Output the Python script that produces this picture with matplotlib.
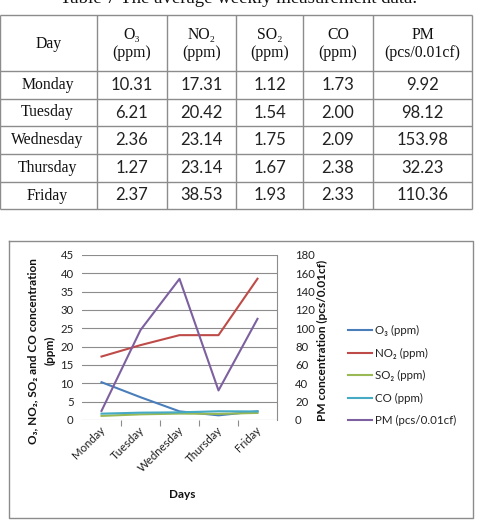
import matplotlib
matplotlib.use('Agg')
import matplotlib.pyplot as plt
import matplotlib.transforms as mtransforms

# ---- data ----
days = ["Monday", "Tuesday", "Wednesday", "Thursday", "Friday"]
o3 = [10.31, 6.21, 2.36, 1.27, 2.37]
no2 = [17.31, 20.42, 23.14, 23.14, 38.53]
so2 = [1.12, 1.54, 1.75, 1.67, 1.93]
co = [1.73, 2.00, 2.09, 2.38, 2.33]
pm = [9.92, 98.12, 153.98, 32.23, 110.36]
table_headers = ["Day", "O\u2083\n(ppm)", "NO\u2082\n(ppm)", "SO\u2082\n(ppm)", "CO\n(ppm)", "PM\n(pcs/0.01cf)"]
caption = "Table 7 The average weekly measurement data."
left_ticks = list(range(0, 46, 5))
right_ticks = list(range(0, 181, 20))
series_labels = ["O\u2083 (ppm)", "NO\u2082 (ppm)", "SO\u2082 (ppm)", "CO (ppm)", "PM (pcs/0.01cf)"]
colors = ["#4A7EBB", "#BE4B48", "#98B954", "#46AAC5", "#7D60A0"]

SERIF = ['Liberation Serif', 'DejaVu Serif']
SANS = ['Lato', 'DejaVu Sans']

W, H = 479, 521
fig = plt.figure(figsize=(W / 100, H / 100), dpi=100)
fig.patch.set_facecolor('white')

# ---- table (pixel overlay) ----
tab = fig.add_axes([0, 0, 1, 1])
tab.set_xlim(0, W)
tab.set_ylim(H, 0)
tab.axis('off')

col_x = [0, 97, 167, 236, 303, 373, 472]
row_y = [15, 71, 99, 126, 154, 182, 209]
gcol = '#8c8c8c'
for y in row_y:
    tab.plot([col_x[0], col_x[-1]], [y, y], color=gcol, lw=1.0, solid_capstyle='butt')
for x in col_x:
    tab.plot([x, x], [row_y[0], row_y[-1]], color=gcol, lw=1.0, solid_capstyle='butt')

tab.text(W / 2 - 1, 3, caption, family=SERIF, fontsize=13.5, ha='center', va='baseline', color='#111111')

for j, htxt in enumerate(table_headers):
    cx = (col_x[j] + col_x[j + 1]) / 2
    tab.text(cx, (row_y[0] + row_y[1]) / 2 + 1, htxt, family=SERIF, fontsize=11.3,
             ha='center', va='center', linespacing=1.15, color='#111111')

table_rows = [[d, f"{a:.2f}", f"{b:.2f}", f"{c:.2f}", f"{e:.2f}", f"{p:.2f}"]
              for d, a, b, c, e, p in zip(days, o3, no2, so2, co, pm)]
for i, row in enumerate(table_rows):
    cy = (row_y[i + 1] + row_y[i + 2]) / 2
    for j, cell in enumerate(row):
        cx = (col_x[j] + col_x[j + 1]) / 2
        if j == 0:
            tab.text(cx - 1, cy, cell, family=SERIF, fontsize=11.3, ha='center', va='center', color='#111111')
        else:
            tab.text(cx, cy, cell, family=SANS, fontsize=12, ha='center', va='center', color='#222222')

# chart border
tab.plot([9, 473, 473, 9, 9], [241, 241, 518, 518, 241], color='#8c8c8c', lw=1.0)

# ---- chart ----
ax = fig.add_axes([82 / W, 1 - 420 / H, 195 / W, 165 / H])
ax.set_zorder(2)
ax.patch.set_alpha(0)
x = list(range(len(days)))
lw = 1.5
h1, = ax.plot(x, o3, color=colors[0], lw=lw, label=series_labels[0])
h2, = ax.plot(x, no2, color=colors[1], lw=lw, label=series_labels[1])
h3, = ax.plot(x, so2, color=colors[2], lw=lw, label=series_labels[2])
h4, = ax.plot(x, co, color=colors[3], lw=lw, label=series_labels[3])
ax.set_xlim(-0.5, len(days) - 0.5)
ax.set_ylim(0, 45)
ax.set_yticks(left_ticks)
ax.grid(axis='y', color='#8c8c8c', lw=0.8)
ax.set_axisbelow(True)
for s in ['top', 'left', 'right', 'bottom']:
    ax.spines[s].set_visible(False)
ax.tick_params(axis='y', length=0, pad=6, labelsize=8.2, labelcolor='#222222')
for lab in ax.get_yticklabels():
    lab.set_family(SANS)

ax.set_xticks(x)
ax.set_xticklabels(days, rotation=45, ha='right', fontsize=8.2, color='#222222', family=SANS)
ax.tick_params(axis='x', length=0, pad=3)
off = mtransforms.ScaledTranslation(6 / 100, 0, fig.dpi_scale_trans)
for lab in ax.get_xticklabels():
    lab.set_transform(lab.get_transform() + off)
ax.set_xticks([k + 0.5 for k in range(len(days) - 1)], minor=True)
ax.tick_params(axis='x', which='minor', length=4, color='#8c8c8c', width=0.8)

ax2 = ax.twinx()
ax2.set_zorder(3)
ax2.patch.set_alpha(0)
h5, = ax2.plot(x, pm, color=colors[4], lw=lw, label=series_labels[4])
ax2.set_ylim(0, 180)
ax2.set_yticks(right_ticks)
for s in ['top', 'left', 'bottom']:
    ax2.spines[s].set_visible(False)
ax2.spines['right'].set_color('#8c8c8c')
ax2.spines['right'].set_linewidth(0.8)
ax2.tick_params(axis='y', length=0, pad=13, labelsize=8.2, labelcolor='#222222')
for lab in ax2.get_yticklabels():
    lab.set_family(SANS)

# axis titles (figure pixel positions)
tab.text(33, 351, "O\u2083, NO\u2082, SO\u2082 and CO concentration", family=SANS, fontsize=8.5,
         fontweight='bold', rotation=90, ha='center', va='center', color='#111111')
tab.text(50, 350, "(ppm)", family=SANS, fontsize=8.5, fontweight='bold', rotation=90,
         ha='center', va='center', color='#111111')
tab.text(322, 340, "PM concentration (pcs/0.01cf)", family=SANS, fontsize=8.6, fontweight='bold',
         rotation=90, ha='center', va='center', color='#111111')
tab.text(182, 495, "Days", family=SANS, fontsize=8.5, fontweight='bold', ha='center', va='center',
         color='#111111')

leg = ax2.legend(handles=[h1, h2, h3, h4, h5], loc='upper left',
                 bbox_to_anchor=(348 / W, 1 - 325 / H), bbox_transform=fig.transFigure,
                 frameon=False, prop={'family': SANS, 'size': 8.3}, handlelength=2.1,
                 handletextpad=0.2, labelspacing=1.0, borderpad=0, borderaxespad=0)
for t in leg.get_texts():
    t.set_color('#222222')

fig.savefig('out.png', dpi=100, facecolor='white')
